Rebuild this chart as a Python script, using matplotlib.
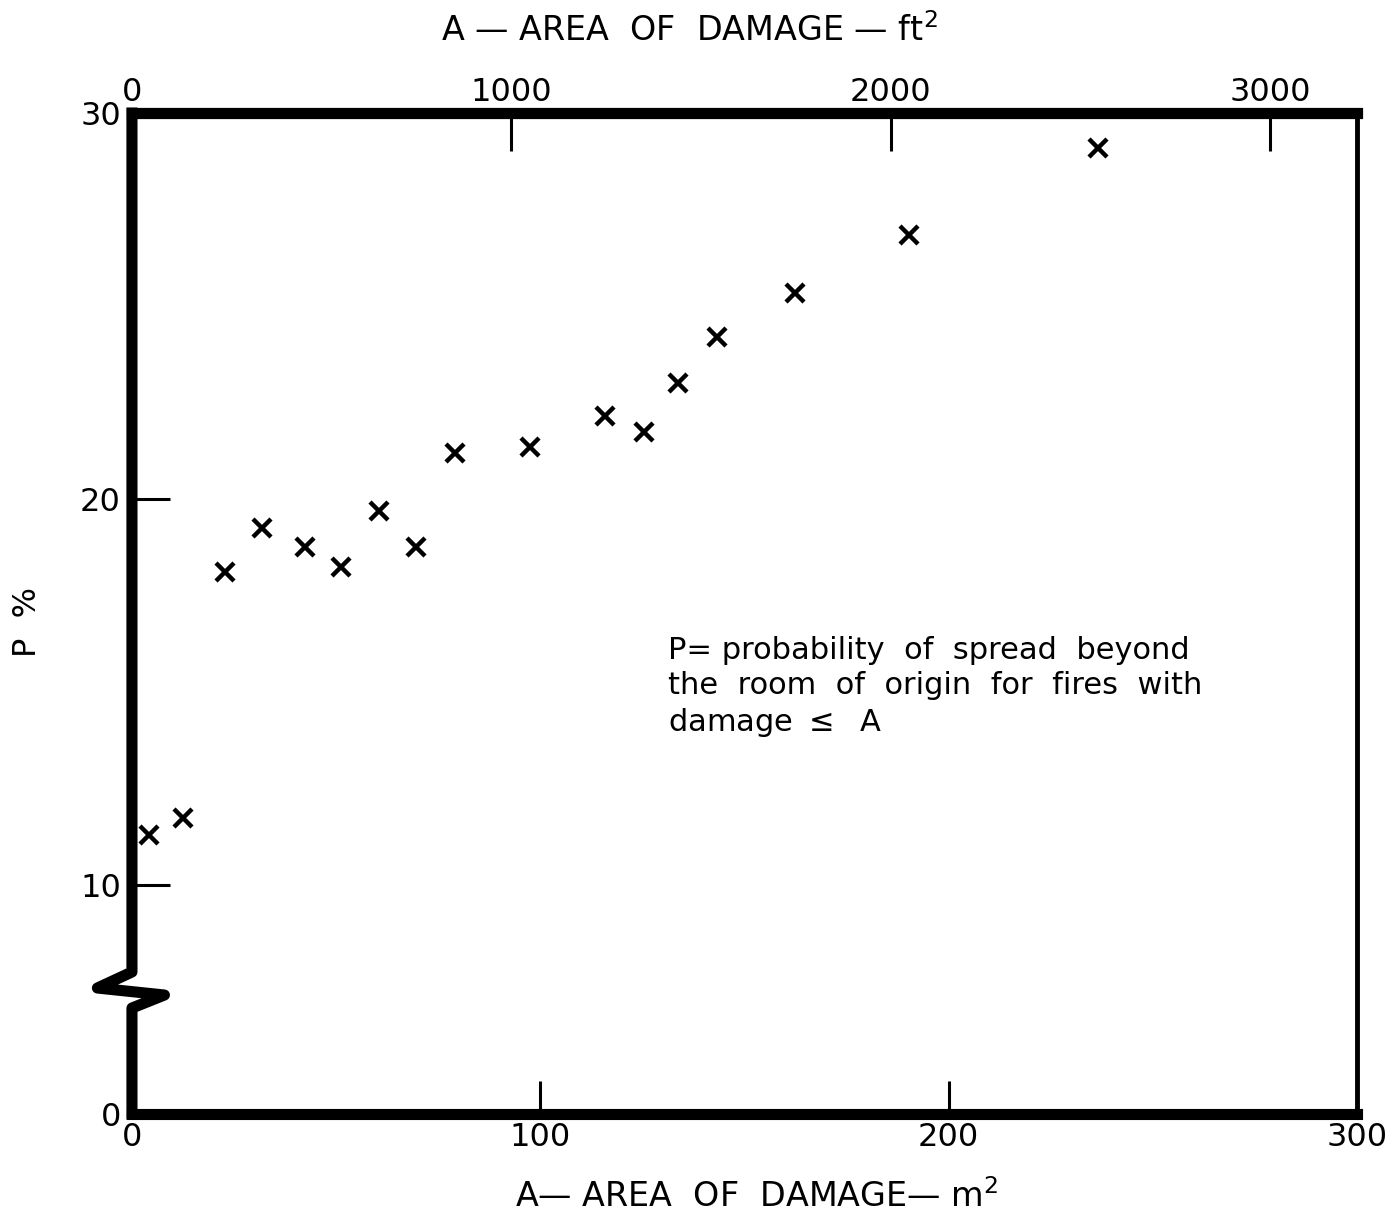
import numpy as np
import matplotlib
matplotlib.use("Agg")
import matplotlib.pyplot as plt

# data: area of damage (m2) vs P (%)
area_m2 = [4.2, 12.5, 22.8, 31.9, 42.5, 51.3, 60.4, 69.5, 79.1, 97.5,
           115.9, 125.5, 133.8, 143.4, 162.3, 190.3, 236.7]
p_pct = [11.3, 11.75, 18.1, 19.25, 18.75, 18.25, 19.7, 18.75, 21.2, 21.35,
         22.15, 21.75, 23.0, 24.2, 25.35, 26.85, 29.1]

x_ticks = [0, 100, 200, 300]
y_ticks = [0, 10, 20, 30]
ft_ticks = [0, 1000, 2000, 3000]
M2_TO_FT2 = 10.764

# broken y axis: 0-10 compressed below the break
SQ = 0.593
def fwd(y):
    y = np.asarray(y, dtype=float)
    return np.where(y < 10, y * SQ, y - 10 + 10 * SQ)

def inv(t):
    t = np.asarray(t, dtype=float)
    return np.where(t < 10 * SQ, t / SQ, t + 10 - 10 * SQ)

plt.rcParams['font.family'] = ['DejaVu Sans']

fig = plt.figure(figsize=(13.89, 12.17), dpi=100)
ax = fig.add_axes([0.0950, 0.0846, 0.8819, 0.8225])

ax.plot(area_m2, p_pct, 'x', color='black', markersize=13, markeredgewidth=3.2)

ax.set_yscale('function', functions=(fwd, inv))
ax.set_xlim(0, 300)
ax.set_ylim(0, 30)
ax.set_xticks(x_ticks)
ax.set_yticks(y_ticks)
ax.set_xticklabels([str(v) for v in x_ticks])
ax.set_yticklabels([str(v) for v in y_ticks])
ax.tick_params(axis='x', direction='in', length=24, width=2.2, pad=6, labelsize=23)
ax.tick_params(axis='y', direction='in', length=27, width=2.2, pad=8, labelsize=23)

for side in ['top', 'bottom']:
    ax.spines[side].set_linewidth(8)
ax.spines['right'].set_linewidth(3.5)
ax.spines['left'].set_visible(False)

# left spine with the zigzag break
brk_x = [0, 0, -0.0282, 0.0265, 0, 0]
brk_y = [1, 0.1419, 0.1259, 0.1189, 0.1059, 0]
ax.plot(brk_x, brk_y, color='black', lw=8, transform=ax.transAxes,
        clip_on=False, solid_joinstyle='round', solid_capstyle='projecting')

# top axis in ft2
sec = ax.secondary_xaxis('top', functions=(lambda x: x * M2_TO_FT2,
                                           lambda x: x / M2_TO_FT2))
sec.set_xticks(ft_ticks)
sec.set_xticklabels([str(v) for v in ft_ticks])
sec.tick_params(direction='in', length=27, width=2.2, pad=4, labelsize=23)
sec.spines['top'].set_linewidth(8)

fig.text(0.496, 0.975, r'A — AREA  OF  DAMAGE — ft$^2$', ha='center',
         va='center', fontsize=24)
fig.text(0.545, 0.0164, r'A— AREA  OF  DAMAGE— m$^2$', ha='center',
         va='center', fontsize=24)
fig.text(0.020, 0.489, 'P  %', rotation=90, ha='center', va='center',
         fontsize=23)

ax.text(0.4376, 0.4775,
        'P= probability  of  spread  beyond\n'
        'the  room  of  origin  for  fires  with\n'
        'damage $\\leq$  A',
        transform=ax.transAxes, ha='left', va='top', fontsize=22,
        linespacing=1.25)

fig.savefig('out.png', dpi=100)
